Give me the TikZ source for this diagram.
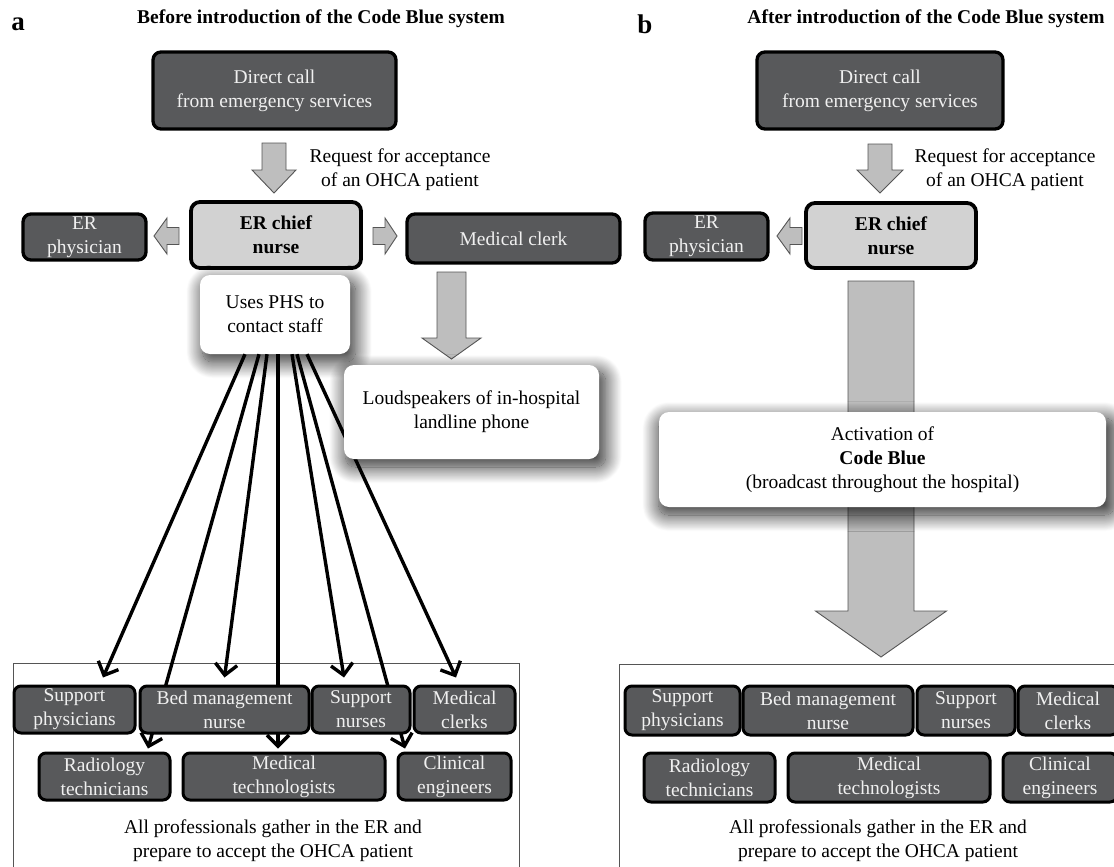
\documentclass[tikz,border=0pt]{standalone}
\usepackage{fontspec}
\setmainfont{Liberation Serif}
\usetikzlibrary{arrows.meta,shadows.blur}

\definecolor{boxgray}{RGB}{88,89,91}
\definecolor{chiefgray}{RGB}{210,210,210}
\definecolor{arrowgray}{RGB}{190,190,190}
\definecolor{edgegray}{RGB}{85,85,85}
\definecolor{boxtext}{RGB}{240,240,240}

% grey block arrows: vertical (x, top, neck, tip, shaft half, head half)
\newcommand{\garrowv}[6]{\draw[garrow] (#1-#5,#2) -- (#1+#5,#2) -- (#1+#5,#3) -- (#1+#6,#3) -- (#1,#4) -- (#1-#6,#3) -- (#1-#5,#3) -- cycle;}
% horizontal (y, start, neck, tip, shaft half, head half)
\newcommand{\garrowh}[6]{\draw[garrow] (#2,#1-#5) -- (#3,#1-#5) -- (#3,#1-#6) -- (#4,#1) -- (#3,#1+#6) -- (#3,#1+#5) -- (#2,#1+#5) -- cycle;}

\tikzset{
  every node/.style={font=\fontsize{19.5}{24}\selectfont},
  boldtext/.style={font=\fontsize{19.5}{24}\selectfont\bfseries},
  darkbox/.style={draw=black, line width=3.3pt, rounded corners=8pt, fill=boxgray, text=boxtext, align=center, inner sep=0pt},
  chiefbox/.style={draw=black, line width=3.8pt, rounded corners=9pt, fill=chiefgray, align=center, inner sep=0pt, boldtext},
  staffbox/.style={draw=black, line width=3pt, rounded corners=7pt, fill=boxgray, text=boxtext, align=center, inner sep=0pt, minimum height=47pt},
  callout/.style={fill=white, rounded corners=10pt, align=center, inner sep=0pt,
    blur shadow={shadow xshift=4pt, shadow yshift=-7pt, shadow scale=1.02, shadow blur radius=16pt, shadow blur steps=24, shadow opacity=85}},
  garrow/.style={fill=arrowgray, draw=edgegray, line width=0.9pt},
  frame/.style={draw=edgegray, line width=1pt},
  phsarrow/.style={line width=3.4pt, -{Straight Barb[length=11pt,width=22pt]}},
}

\begin{document}
\begin{tikzpicture}[x=1pt, y=-1pt]
\useasboundingbox (0,0) rectangle (1114,867);
\clip (0,0) rectangle (1114,867);

% ---------- panel a ----------
\node[font=\fontsize{27}{27}\selectfont\bfseries] (labA) at (18,24) {a};
\node[boldtext] (titleA) at (321,19) {Before introduction of the Code Blue system};

\draw[frame] (13,663) rectangle (519,890);

\node[darkbox, minimum width=243pt, minimum height=77pt] (dcA) at (274.5,90.5) {Direct call\\from emergency services};
\garrowv{274}{143}{170}{193}{12}{22}
\node[align=center] (reqA) at (400,170) {Request for acceptance\\of an OHCA patient};

\node[chiefbox, minimum width=170pt, minimum height=66pt] (chiefA) at (276,235) {ER chief\\nurse};
\node[darkbox, minimum width=123pt, minimum height=46pt] (erpA) at (84.5,237) {ER\\physician};
\node[darkbox, minimum width=213pt, minimum height=49pt] (clerkA) at (513.5,238.5) {Medical clerk};
\garrowh{236}{179}{167}{154}{8.5}{18}
\garrowh{236}{373}{385}{397}{8.5}{18}

\node[callout, minimum width=150pt, minimum height=79pt] (phs) at (275,314.5) {Uses PHS to\\contact staff};

% second row of staff
\node[staffbox, minimum width=131pt] (rtA) at (104.5,776.5) {Radiology\\technicians};
\node[staffbox, minimum width=202pt] (mtA) at (284,776.5) {Medical\\technologists};
\node[staffbox, minimum width=113pt] (ceA) at (454.5,776.5) {Clinical\\engineers};

\draw[phsarrow] ([xshift=-16pt]phs.south) -- ([xshift=43.5pt, yshift=3pt]rtA.north);
\draw[phsarrow] ([xshift=3pt]phs.south) -- ([xshift=-6pt, yshift=3pt]mtA.north);
\draw[phsarrow] ([xshift=22pt]phs.south) -- ([xshift=-49.5pt, yshift=3pt]ceA.north);

% first row of staff
\node[staffbox, minimum width=121pt] (spA) at (74.5,709.5) {Support\\physicians};
\node[staffbox, minimum width=169pt] (bmA) at (224.5,709.5) {Bed management\\nurse};
\node[staffbox, minimum width=98pt] (snA) at (361,709.5) {Support\\nurses};
\node[staffbox, minimum width=101pt] (mcA) at (464.5,709.5) {Medical\\clerks};

\draw[phsarrow] ([xshift=-30pt]phs.south) -- ([xshift=28.5pt, yshift=7pt]spA.north);
\draw[phsarrow] ([xshift=-8pt]phs.south) -- ([xshift=0pt, yshift=7pt]bmA.north);
\draw[phsarrow] ([xshift=17pt]phs.south) -- ([xshift=-17pt, yshift=7pt]snA.north);
\draw[phsarrow] ([xshift=32pt]phs.south) -- ([xshift=-8.5pt, yshift=7pt]mcA.north);

\garrowv{451.5}{272}{338}{359}{14.5}{29.5}
\node[callout, minimum width=255pt, minimum height=94pt] (loud) at (471.5,412) {Loudspeakers of in-hospital\\landline phone};

\node[align=center] (gatherA) at (273,841) {All professionals gather in the ER and\\prepare to accept the OHCA patient};

% ---------- panel b ----------
\node[font=\fontsize{27}{27}\selectfont\bfseries] (labB) at (645,24) {b};
\node[boldtext] (titleB) at (926,19) {After introduction of the Code Blue system};

\draw[frame] (619,664) rectangle (1130,890);

\node[darkbox, minimum width=246pt, minimum height=77pt] (dcB) at (880,90.5) {Direct call\\from emergency services};
\garrowv{880}{144}{170}{193}{12}{23}
\node[align=center] (reqB) at (1005,169.5) {Request for acceptance\\of an OHCA patient};

\node[chiefbox, minimum width=170pt, minimum height=65pt] (chiefB) at (891,235.5) {ER chief\\nurse};
\node[darkbox, minimum width=123pt, minimum height=47pt] (erpB) at (706.5,236.5) {ER\\physician};
\garrowh{236}{802}{790}{777}{8.5}{18}

\garrowv{881}{281}{611}{657}{33}{65.5}
\node[callout, minimum width=447pt, minimum height=95pt] (act) at (882.5,459.5) {Activation of\\\textbf{Code Blue}\\(broadcast throughout the hospital)};

\node[staffbox, minimum width=115pt, minimum height=49pt] (spB) at (682.5,710.5) {Support\\physicians};
\node[staffbox, minimum width=170pt, minimum height=49pt] (bmB) at (828,710.5) {Bed management\\nurse};
\node[staffbox, minimum width=98pt, minimum height=49pt] (snB) at (966,710.5) {Support\\nurses};
\node[staffbox, minimum width=100pt, minimum height=49pt] (mcB) at (1068,710.5) {Medical\\clerks};

\node[staffbox, minimum width=131pt, minimum height=49pt] (rtB) at (709.5,777.5) {Radiology\\technicians};
\node[staffbox, minimum width=202pt, minimum height=49pt] (mtB) at (889,777.5) {Medical\\technologists};
\node[staffbox, minimum width=114pt, minimum height=49pt] (ceB) at (1060,777.5) {Clinical\\engineers};

\node[align=center] (gatherB) at (878,841) {All professionals gather in the ER and\\prepare to accept the OHCA patient};
\end{tikzpicture}
\end{document}
